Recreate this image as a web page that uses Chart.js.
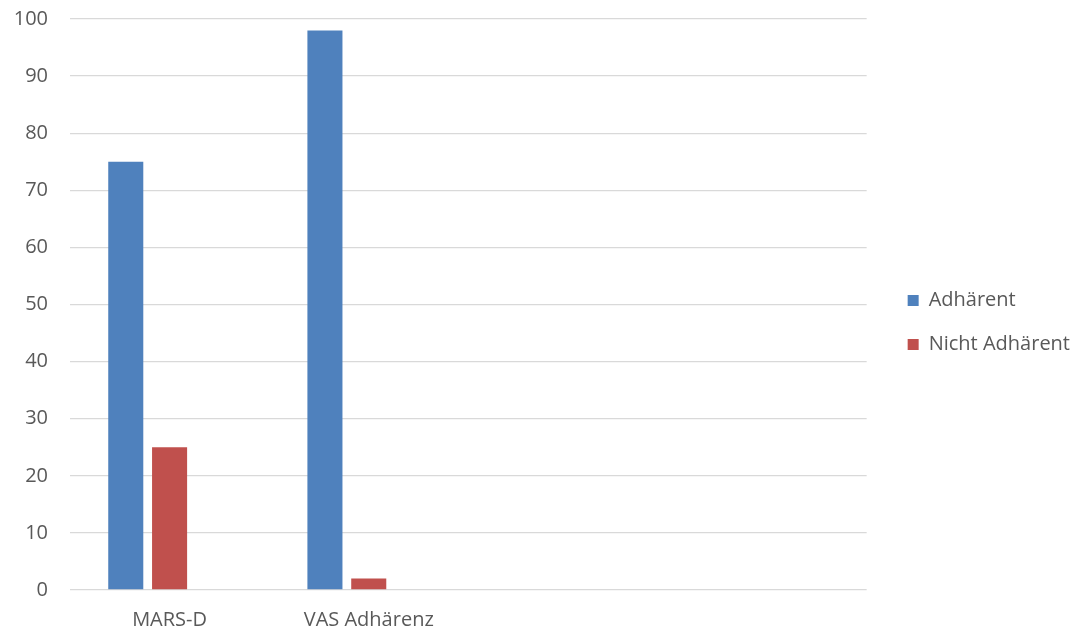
<!DOCTYPE html>
<html>
<head>
<meta charset="utf-8">
<script src="https://cdn.jsdelivr.net/npm/chart.js@4"></script>
<style>
  html, body { margin: 0; padding: 0; background: #fff; }
  #wrap { width: 1080px; height: 630px; }
</style>
</head>
<body>
<div id="wrap"><canvas id="grafico" width="1080" height="630"></canvas></div>
<script>
const kategorien = ['MARS-D', 'VAS Adhärenz', '', ''];
const adhaerent = [75, 98, null, null];
const nichtAdhaerent = [25, 2, null, null];
const leer = [null, null, null, null];
const yTicks = [0, 10, 20, 30, 40, 50, 60, 70, 80, 90, 100];

const blau = '#4F81BD';
const rot = '#C0504D';
const schrift = '"Open Sans", "Liberation Sans", sans-serif';

// Legende nach dem Layout etwas nach rechts/oben schieben
const legendeVerschieben = {
    id: 'legendeVerschieben',
    afterLayout(chart) {
        if (chart.legend) {
            chart.legend.left += 17;
            chart.legend.right += 17;
            chart.legend.top -= 2;
            chart.legend.bottom -= 2;
        }
    }
};

var ctx = document.getElementById('grafico').getContext('2d');
new Chart(ctx, {
    type: 'bar',
    data: {
        labels: kategorien,
        datasets: [{
            label: 'Adhärent',
            data: adhaerent,
            backgroundColor: blau
        }, {
            label: 'Nicht Adhärent',
            data: nichtAdhaerent,
            backgroundColor: rot
        }, {
            label: '',
            data: leer,
            backgroundColor: '#9BBB59'
        }]
    },
    plugins: [legendeVerschieben],
    options: {
        responsive: false,
        animation: false,
        categoryPercentage: 0.66,
        barPercentage: 0.8,
        layout: { padding: { top: 19, right: 17, bottom: 0, left: 0 } },
        plugins: {
            tooltip: { enabled: false },
            legend: {
                position: 'right',
                labels: {
                    boxWidth: 11,
                    boxHeight: 11,
                    padding: 24,
                    color: '#595959',
                    font: { family: schrift, size: 20 },
                    filter: (item) => item.text !== ''
                }
            }
        },
        scales: {
            x: {
                grid: { display: false },
                border: { display: false },
                afterFit: (axis) => { axis.height = 40; axis.paddingLeft = 0; axis.paddingRight = 0; },
                ticks: { color: '#595959', font: { family: schrift, size: 20 }, padding: 10 }
            },
            y: {
                min: 0,
                max: 100,
                afterBuildTicks: (axis) => { axis.ticks = yTicks.map((v) => ({ value: v })); },
                afterFit: (axis) => { axis.width = 70; axis.paddingTop = 0; axis.paddingBottom = 0; },
                border: { display: false },
                grid: { color: '#D9D9D9', lineWidth: 1.3, drawTicks: false },
                ticks: { color: '#595959', font: { family: schrift, size: 20 }, padding: 22 }
            }
        }
    }
});
</script>
</body>
</html>
